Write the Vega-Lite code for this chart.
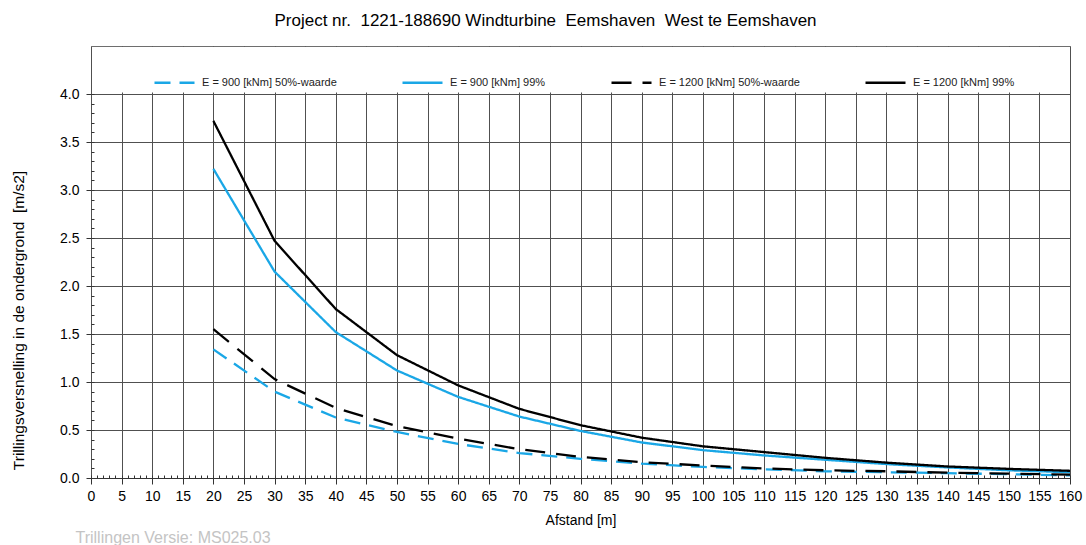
{
  "$schema": "https://vega.github.io/schema/vega-lite/v6.json",
  "width": 979,
  "height": 432,
  "autosize": {"type": "none"},
  "padding": {"left": 91, "top": 46, "right": 16, "bottom": 67},
  "background": "#ffffff",
  "config": {
    "font": "Liberation Sans",
    "view": {"stroke": "#6e6e6e", "strokeWidth": 1}
  },
  "title": {
    "text": "Project nr.\u00a0 1221-188690 Windturbine\u00a0 Eemshaven\u00a0 West te Eemshaven",
    "font": "Liberation Sans",
    "fontSize": 17,
    "fontWeight": "normal",
    "color": "#000000",
    "anchor": "middle",
    "dx": -35,
    "offset": 16
  },
  "data": {
    "values": [
      {"afstand": 20, "waarde": 1.34, "reeks": "E = 900 [kNm] 50%-waarde"},
      {"afstand": 30, "waarde": 0.90, "reeks": "E = 900 [kNm] 50%-waarde"},
      {"afstand": 40, "waarde": 0.63, "reeks": "E = 900 [kNm] 50%-waarde"},
      {"afstand": 50, "waarde": 0.48, "reeks": "E = 900 [kNm] 50%-waarde"},
      {"afstand": 60, "waarde": 0.355, "reeks": "E = 900 [kNm] 50%-waarde"},
      {"afstand": 70, "waarde": 0.26, "reeks": "E = 900 [kNm] 50%-waarde"},
      {"afstand": 80, "waarde": 0.20, "reeks": "E = 900 [kNm] 50%-waarde"},
      {"afstand": 90, "waarde": 0.15, "reeks": "E = 900 [kNm] 50%-waarde"},
      {"afstand": 100, "waarde": 0.115, "reeks": "E = 900 [kNm] 50%-waarde"},
      {"afstand": 110, "waarde": 0.09, "reeks": "E = 900 [kNm] 50%-waarde"},
      {"afstand": 120, "waarde": 0.07, "reeks": "E = 900 [kNm] 50%-waarde"},
      {"afstand": 130, "waarde": 0.06, "reeks": "E = 900 [kNm] 50%-waarde"},
      {"afstand": 140, "waarde": 0.05, "reeks": "E = 900 [kNm] 50%-waarde"},
      {"afstand": 150, "waarde": 0.04, "reeks": "E = 900 [kNm] 50%-waarde"},
      {"afstand": 160, "waarde": 0.027, "reeks": "E = 900 [kNm] 50%-waarde"},
      {"afstand": 20, "waarde": 3.22, "reeks": "E = 900 [kNm] 99%"},
      {"afstand": 30, "waarde": 2.15, "reeks": "E = 900 [kNm] 99%"},
      {"afstand": 40, "waarde": 1.52, "reeks": "E = 900 [kNm] 99%"},
      {"afstand": 50, "waarde": 1.12, "reeks": "E = 900 [kNm] 99%"},
      {"afstand": 60, "waarde": 0.845, "reeks": "E = 900 [kNm] 99%"},
      {"afstand": 70, "waarde": 0.64, "reeks": "E = 900 [kNm] 99%"},
      {"afstand": 80, "waarde": 0.49, "reeks": "E = 900 [kNm] 99%"},
      {"afstand": 90, "waarde": 0.37, "reeks": "E = 900 [kNm] 99%"},
      {"afstand": 100, "waarde": 0.29, "reeks": "E = 900 [kNm] 99%"},
      {"afstand": 110, "waarde": 0.235, "reeks": "E = 900 [kNm] 99%"},
      {"afstand": 120, "waarde": 0.19, "reeks": "E = 900 [kNm] 99%"},
      {"afstand": 130, "waarde": 0.145, "reeks": "E = 900 [kNm] 99%"},
      {"afstand": 140, "waarde": 0.11, "reeks": "E = 900 [kNm] 99%"},
      {"afstand": 150, "waarde": 0.08, "reeks": "E = 900 [kNm] 99%"},
      {"afstand": 160, "waarde": 0.06, "reeks": "E = 900 [kNm] 99%"},
      {"afstand": 20, "waarde": 1.55, "reeks": "E = 1200 [kNm] 50%-waarde"},
      {"afstand": 30, "waarde": 1.03, "reeks": "E = 1200 [kNm] 50%-waarde"},
      {"afstand": 40, "waarde": 0.73, "reeks": "E = 1200 [kNm] 50%-waarde"},
      {"afstand": 50, "waarde": 0.54, "reeks": "E = 1200 [kNm] 50%-waarde"},
      {"afstand": 60, "waarde": 0.41, "reeks": "E = 1200 [kNm] 50%-waarde"},
      {"afstand": 70, "waarde": 0.30, "reeks": "E = 1200 [kNm] 50%-waarde"},
      {"afstand": 80, "waarde": 0.22, "reeks": "E = 1200 [kNm] 50%-waarde"},
      {"afstand": 90, "waarde": 0.165, "reeks": "E = 1200 [kNm] 50%-waarde"},
      {"afstand": 100, "waarde": 0.13, "reeks": "E = 1200 [kNm] 50%-waarde"},
      {"afstand": 110, "waarde": 0.10, "reeks": "E = 1200 [kNm] 50%-waarde"},
      {"afstand": 120, "waarde": 0.08, "reeks": "E = 1200 [kNm] 50%-waarde"},
      {"afstand": 130, "waarde": 0.07, "reeks": "E = 1200 [kNm] 50%-waarde"},
      {"afstand": 140, "waarde": 0.055, "reeks": "E = 1200 [kNm] 50%-waarde"},
      {"afstand": 150, "waarde": 0.045, "reeks": "E = 1200 [kNm] 50%-waarde"},
      {"afstand": 160, "waarde": 0.035, "reeks": "E = 1200 [kNm] 50%-waarde"},
      {"afstand": 20, "waarde": 3.72, "reeks": "E = 1200 [kNm] 99%"},
      {"afstand": 30, "waarde": 2.47, "reeks": "E = 1200 [kNm] 99%"},
      {"afstand": 40, "waarde": 1.76, "reeks": "E = 1200 [kNm] 99%"},
      {"afstand": 50, "waarde": 1.28, "reeks": "E = 1200 [kNm] 99%"},
      {"afstand": 60, "waarde": 0.965, "reeks": "E = 1200 [kNm] 99%"},
      {"afstand": 70, "waarde": 0.72, "reeks": "E = 1200 [kNm] 99%"},
      {"afstand": 80, "waarde": 0.55, "reeks": "E = 1200 [kNm] 99%"},
      {"afstand": 90, "waarde": 0.42, "reeks": "E = 1200 [kNm] 99%"},
      {"afstand": 100, "waarde": 0.33, "reeks": "E = 1200 [kNm] 99%"},
      {"afstand": 110, "waarde": 0.27, "reeks": "E = 1200 [kNm] 99%"},
      {"afstand": 120, "waarde": 0.21, "reeks": "E = 1200 [kNm] 99%"},
      {"afstand": 130, "waarde": 0.16, "reeks": "E = 1200 [kNm] 99%"},
      {"afstand": 140, "waarde": 0.12, "reeks": "E = 1200 [kNm] 99%"},
      {"afstand": 150, "waarde": 0.095, "reeks": "E = 1200 [kNm] 99%"},
      {"afstand": 160, "waarde": 0.075, "reeks": "E = 1200 [kNm] 99%"}
    ]
  },
  "resolve": {"axis": {"x": "independent", "y": "independent"}},
  "layer": [
    {
      "data": {"values": [{}]},
      "mark": {"type": "rect", "fill": "#ffffff", "stroke": null},
      "encoding": {
        "x": {
          "datum": 0.3, "type": "quantitative",
          "scale": {"domain": [0, 160], "nice": false, "zero": false},
          "axis": {
            "orient": "bottom",
            "values": [0,1,2,3,4,5,6,7,8,9,10,11,12,13,14,15,16,17,18,19,20,21,22,23,24,25,26,27,28,29,30,31,32,33,34,35,36,37,38,39,40,41,42,43,44,45,46,47,48,49,50,51,52,53,54,55,56,57,58,59,60,61,62,63,64,65,66,67,68,69,70,71,72,73,74,75,76,77,78,79,80,81,82,83,84,85,86,87,88,89,90,91,92,93,94,95,96,97,98,99,100,101,102,103,104,105,106,107,108,109,110,111,112,113,114,115,116,117,118,119,120,121,122,123,124,125,126,127,128,129,130,131,132,133,134,135,136,137,138,139,140,141,142,143,144,145,146,147,148,149,150,151,152,153,154,155,156,157,158,159,160],
            "labels": false,
            "domain": false,
            "grid": false,
            "ticks": true,
            "tickSize": -3,
            "tickColor": "#333333",
            "title": "Trillingen Versie: MS025.03",
            "titleX": -16,
            "titleY": 64,
            "titleAlign": "left",
            "titleAnchor": "start",
            "titleBaseline": "alphabetic",
            "titleColor": "#c4c4c4",
            "titleFont": "Liberation Sans",
            "titleFontSize": 16,
            "titleFontWeight": "normal"
          }
        },
        "x2": {"datum": 159.7},
        "y": {
          "datum": 4.015, "type": "quantitative",
          "scale": {"domain": [0, 4.5], "nice": false, "zero": false},
          "axis": {
            "orient": "left",
            "values": [0,0.1,0.2,0.3,0.4,0.5,0.6,0.7,0.8,0.9,1,1.1,1.2,1.3,1.4,1.5,1.6,1.7,1.8,1.9,2,2.1,2.2,2.3,2.4,2.5,2.6,2.7,2.8,2.9,3,3.1,3.2,3.3,3.4,3.5,3.6,3.7,3.8,3.9,4],
            "labels": false,
            "domain": false,
            "grid": false,
            "ticks": true,
            "tickSize": -3,
            "tickColor": "#333333",
            "title": null
          }
        },
        "y2": {"datum": 4.49}
      }
    },
    {
      "mark": {"type": "line", "strokeWidth": 2.3, "interpolate": "linear"},
      "encoding": {
        "x": {
          "field": "afstand", "type": "quantitative",
          "scale": {"domain": [0, 160], "nice": false, "zero": false},
          "axis": {
            "orient": "bottom",
            "values": [0,5,10,15,20,25,30,35,40,45,50,55,60,65,70,75,80,85,90,95,100,105,110,115,120,125,130,135,140,145,150,155,160],
            "format": "d",
            "grid": true,
            "gridColor": "#505050",
            "gridWidth": 1,
            "domain": true,
            "domainColor": "#333333",
            "tickColor": "#333333",
            "tickSize": 6,
            "labelFont": "Liberation Sans",
            "labelFontSize": 14,
            "labelColor": "#000000",
            "labelPadding": 5,
            "labelOverlap": false,
            "labelFlush": false,
            "title": "Afstand [m]",
            "titleFont": "Liberation Sans",
            "titleFontSize": 14,
            "titleFontWeight": "normal",
            "titleColor": "#000000",
            "titlePadding": 10
          }
        },
        "y": {
          "field": "waarde", "type": "quantitative",
          "scale": {"domain": [0, 4.5], "nice": false, "zero": false},
          "axis": {
            "orient": "left",
            "values": [0,0.5,1,1.5,2,2.5,3,3.5,4],
            "format": ".1f",
            "grid": true,
            "gridColor": "#505050",
            "gridWidth": 1,
            "domain": false,
            "tickColor": "#333333",
            "tickSize": 5,
            "labelFont": "Liberation Sans",
            "labelFontSize": 14,
            "labelColor": "#000000",
            "labelPadding": 7,
            "title": "Trillingsversnelling in de ondergrond\u00a0 [m/s2]",
            "titleFont": "Liberation Sans",
            "titleFontSize": 15.5,
            "titleFontWeight": "normal",
            "titleColor": "#000000",
            "titleAngle": -90,
            "titleX": -73,
            "titleY": 274,
            "titleAlign": "center",
            "titleBaseline": "middle"
          }
        },
        "color": {
          "field": "reeks", "type": "nominal",
          "scale": {
            "domain": ["E = 900 [kNm] 50%-waarde", "E = 900 [kNm] 99%", "E = 1200 [kNm] 50%-waarde", "E = 1200 [kNm] 99%"],
            "range": ["#1aa7e6", "#1aa7e6", "#000000", "#000000"]
          },
          "legend": {
            "title": null,
            "orient": "none",
            "legendX": 62,
            "legendY": 15,
            "direction": "horizontal",
            "columns": 4,
            "columnPadding": 60,
            "padding": 0,
            "symbolType": "stroke",
            "symbolSize": 1600,
            "symbolStrokeWidth": 2.5,
            "labelFont": "Liberation Sans",
            "labelFontSize": 11,
            "labelColor": "#222222",
            "labelOffset": 6,
            "labelLimit": 300
          }
        },
        "strokeDash": {
          "field": "reeks", "type": "nominal",
          "scale": {
            "domain": ["E = 900 [kNm] 50%-waarde", "E = 900 [kNm] 99%", "E = 1200 [kNm] 50%-waarde", "E = 1200 [kNm] 99%"],
            "range": [[16, 9], [1, 0], [20, 11], [1, 0]]
          }
        }
      }
    }
  ]
}
